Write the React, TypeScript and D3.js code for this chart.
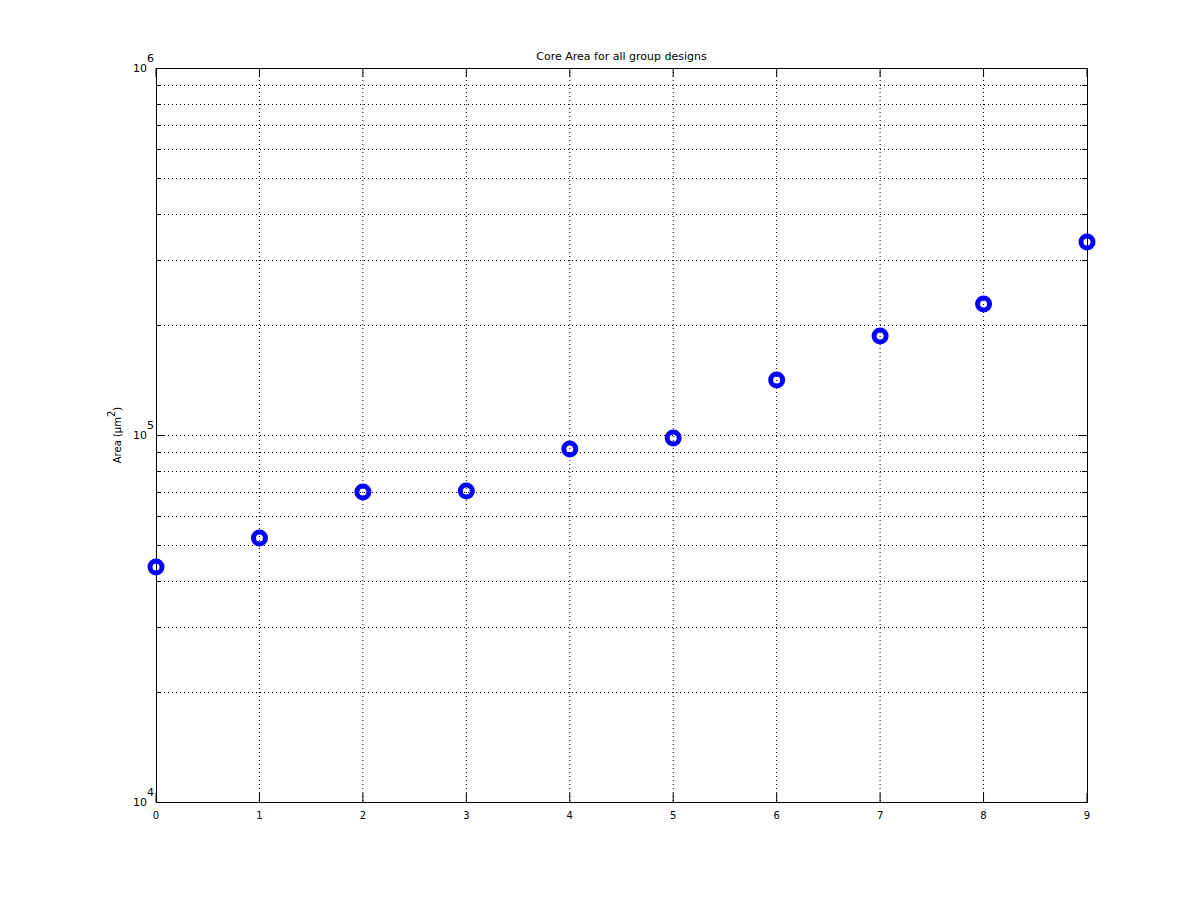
import React from "react";
import * as d3 from "d3";

const xValues = [0, 1, 2, 3, 4, 5, 6, 7, 8, 9];
const areaValues = [43700, 52400, 69900, 70400, 91600, 98100, 141200, 186100, 227500, 335700];
const xTicks = [0, 1, 2, 3, 4, 5, 6, 7, 8, 9];
const yDecades = [1e4, 1e5, 1e6];
const yExponents = ["4", "5", "6"];

export default function App() {
  const W = 1201, H = 901;
  const left = 156, right = 1087, top = 68, bottom = 802;
  const x = d3.scaleLinear().domain([0, 9]).range([left, right]);
  const y = d3.scaleLog().domain([1e4, 1e6]).range([bottom, top]);
  const minor: number[] = [];
  [1e4, 1e5].forEach((d) => {
    for (let k = 2; k <= 9; k++) minor.push(d * k);
  });
  const font = "DejaVu Sans, sans-serif";
  return (
    <svg width={W} height={H} style={{ position: "absolute", left: 0, top: 0, background: "#fff" }}>
      <rect x={0} y={0} width={W} height={H} fill="#fff" />
      {xTicks.slice(1, -1).map((t) => (
        <line key={"gx" + t} x1={x(t)} x2={x(t)} y1={top} y2={bottom} stroke="#000" strokeWidth={1} strokeDasharray="1,3" />
      ))}
      {[...minor, 1e5].map((v) => (
        <line key={"gy" + v} x1={left} x2={right} y1={Math.round(y(v)) + 0.5} y2={Math.round(y(v)) + 0.5} stroke="#000" strokeWidth={1} strokeDasharray="1,3" />
      ))}
      <rect x={left + 0.5} y={top + 0.5} width={right - left} height={bottom - top} fill="none" stroke="#000" strokeWidth={1} />
      {xTicks.map((t) => (
        <g key={"xt" + t}>
          <line x1={x(t)} x2={x(t)} y1={bottom} y2={bottom - 9} stroke="#000" />
          <line x1={x(t)} x2={x(t)} y1={top} y2={top + 9} stroke="#000" />
          <text x={x(t)} y={bottom + 17} textAnchor="middle" fontFamily={font} fontSize={10}>{t}</text>
        </g>
      ))}
      {yDecades.map((v) => (
        <g key={"yt" + v}>
          <line x1={left} x2={left + 9} y1={Math.round(y(v)) + 0.5} y2={Math.round(y(v)) + 0.5} stroke="#000" />
          <line x1={right} x2={right - 9} y1={Math.round(y(v)) + 0.5} y2={Math.round(y(v)) + 0.5} stroke="#000" />
        </g>
      ))}
      {minor.map((v) => (
        <g key={"ym" + v}>
          <line x1={left} x2={left + 5} y1={Math.round(y(v)) + 0.5} y2={Math.round(y(v)) + 0.5} stroke="#000" />
          <line x1={right} x2={right - 5} y1={Math.round(y(v)) + 0.5} y2={Math.round(y(v)) + 0.5} stroke="#000" />
        </g>
      ))}
      {yDecades.map((v, i) => (
        <text key={"yl" + v} fontFamily={font} fontSize={11} textAnchor="end">
          <tspan x={left - 9} y={y(v) + 4}>10</tspan>
          <tspan x={left - 9} y={y(v) - 6} textAnchor="start">{yExponents[i]}</tspan>
        </text>
      ))}
      <text x={(left + right) / 2} y={60} textAnchor="middle" fontFamily={font} fontSize={11}>Core Area for all group designs</text>
      <text transform={`translate(121, ${y(1e5)}) rotate(-90)`} textAnchor="middle" fontFamily={font} fontSize={10}>
        Area (μm<tspan dy={-6} fontSize={10}>2</tspan><tspan dy={6}>)</tspan>
      </text>
      {xValues.map((xv, i) => (
        <circle key={"p" + i} cx={x(xv)} cy={y(areaValues[i])} r={6} fill="none" stroke="#0000ff" strokeWidth={5} />
      ))}
    </svg>
  );
}
